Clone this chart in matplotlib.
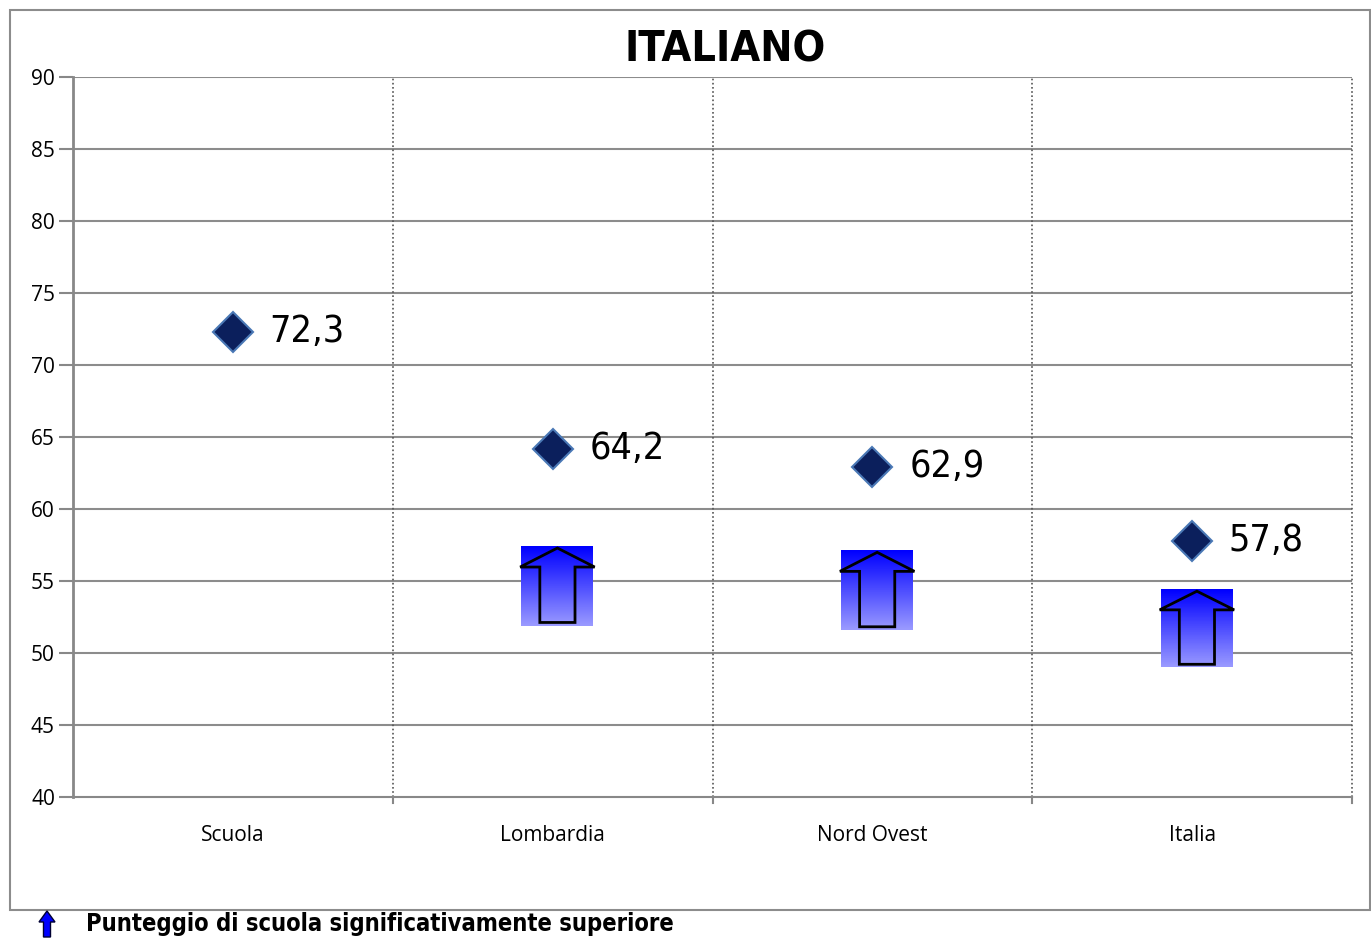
import matplotlib.pyplot as plt
import numpy as np
from matplotlib.patches import Rectangle, Polygon
from matplotlib.colors import LinearSegmentedColormap

categories = ['Scuola', 'Lombardia', 'Nord Ovest', 'Italia']
scores = [72.3, 64.2, 62.9, 57.8]
score_labels = ['72,3', '64,2', '62,9', '57,8']
# significance arrows: (category index, low, high)
arrow_cats = [1, 2, 3]
arrow_low = [51.9, 51.6, 49.0]
arrow_high = [57.4, 57.1, 54.4]

narrow = ['Liberation Sans Narrow', 'DejaVu Sans']
plain = ['Open Sans', 'DejaVu Sans']

fig = plt.figure(figsize=(13.71, 9.40), dpi=100)
ax = fig.add_axes([73 / 1371, 1 - 797 / 940, (1352 - 73) / 1371, 720 / 940])

ax.set_xlim(-0.5, 3.5)
ax.set_ylim(40, 90)
ax.set_yticks(np.arange(40, 91, 5))
ax.set_xticks(range(4))
ax.set_xticklabels(categories, family=plain, fontsize=15)
ax.set_yticklabels([str(v) for v in range(40, 91, 5)], family=plain, fontsize=15)
ax.tick_params(axis='x', length=0, pad=20)
ax.tick_params(axis='y', length=10, width=1.5, color='#888888', direction='out', pad=3)

for v in range(45, 91, 5):
    ax.axhline(v, color='#8c8c8c', lw=1.5, zorder=1)
for b in [0.5, 1.5, 2.5, 3.5]:
    ax.plot([b, b], [40, 90], color='#555555', lw=1.2, ls=(0, (1, 1.5)), zorder=1, clip_on=False)
    ax.plot([b, b], [40, 39.6], color='#888888', lw=1.5, clip_on=False)

for side in ['top', 'right']:
    ax.spines[side].set_visible(False)
ax.spines['left'].set_color('#888888')
ax.spines['left'].set_linewidth(2)
ax.spines['bottom'].set_color('#888888')
ax.spines['bottom'].set_linewidth(1.5)

ax.plot(range(4), scores, ls='none', marker='D', markersize=20,
        markerfacecolor='#0b1f5c', markeredgecolor='#4a78b5', markeredgewidth=1.5, zorder=5)
for i, (s, lab) in enumerate(zip(scores, score_labels)):
    ax.text(i + 0.115, s, lab, family=narrow, stretch='condensed', fontsize=27,
            va='center', ha='left', zorder=6)

# gradient boxes with outlined up-arrow
grad = np.linspace(0, 1, 100).reshape(-1, 1)
cmap = LinearSegmentedColormap.from_list('bl', ['#0000ff', '#9a9aff'])
for c, lo, hi in zip(arrow_cats, arrow_low, arrow_high):
    xc = c + 0.015
    w = 0.225
    ax.imshow(grad, cmap=cmap, aspect='auto', extent=(xc - w / 2, xc + w / 2, lo, hi),
              origin='upper', zorder=3)
    h = hi - lo
    head = hi - 0.26 * h
    pts = [(xc, hi - 0.02 * h), (xc + w / 2 + 0.004, head), (xc + 0.055, head),
           (xc + 0.055, lo + 0.04 * h), (xc - 0.055, lo + 0.04 * h), (xc - 0.055, head),
           (xc - w / 2 - 0.004, head)]
    ax.add_patch(Polygon(pts, closed=True, fill=False, edgecolor='black', lw=2, zorder=4))

fig.text(725 / 1371, 1 - 50 / 940, 'ITALIANO', family=narrow, stretch='condensed',
         fontsize=31, fontweight='bold', ha='center', va='center')

# outer frame
fig.patches.append(Rectangle((10 / 1371, 1 - 910 / 940), 1360 / 1371, 900 / 940,
                             transform=fig.transFigure, fill=False,
                             edgecolor='#8c8c8c', lw=1.5))

# legend note
lx, ly = 47 / 1371, 1 - 924 / 940
sx, sy = 1 / 1371, 1 / 940
icon = [(lx, ly + 13 * sy), (lx + 8 * sx, ly + 2 * sy), (lx + 3.5 * sx, ly + 2 * sy),
        (lx + 3.5 * sx, ly - 13 * sy), (lx - 3.5 * sx, ly - 13 * sy),
        (lx - 3.5 * sx, ly + 2 * sy), (lx - 8 * sx, ly + 2 * sy)]
fig.patches.append(Polygon(icon, closed=True, transform=fig.transFigure,
                           facecolor='#0000ff', edgecolor='#000033', lw=1))
fig.text(86 / 1371, ly, 'Punteggio di scuola significativamente superiore',
         family=narrow, stretch='condensed', fontsize=17, fontweight='bold',
         va='center', ha='left')

fig.savefig('out.png', dpi=100)
